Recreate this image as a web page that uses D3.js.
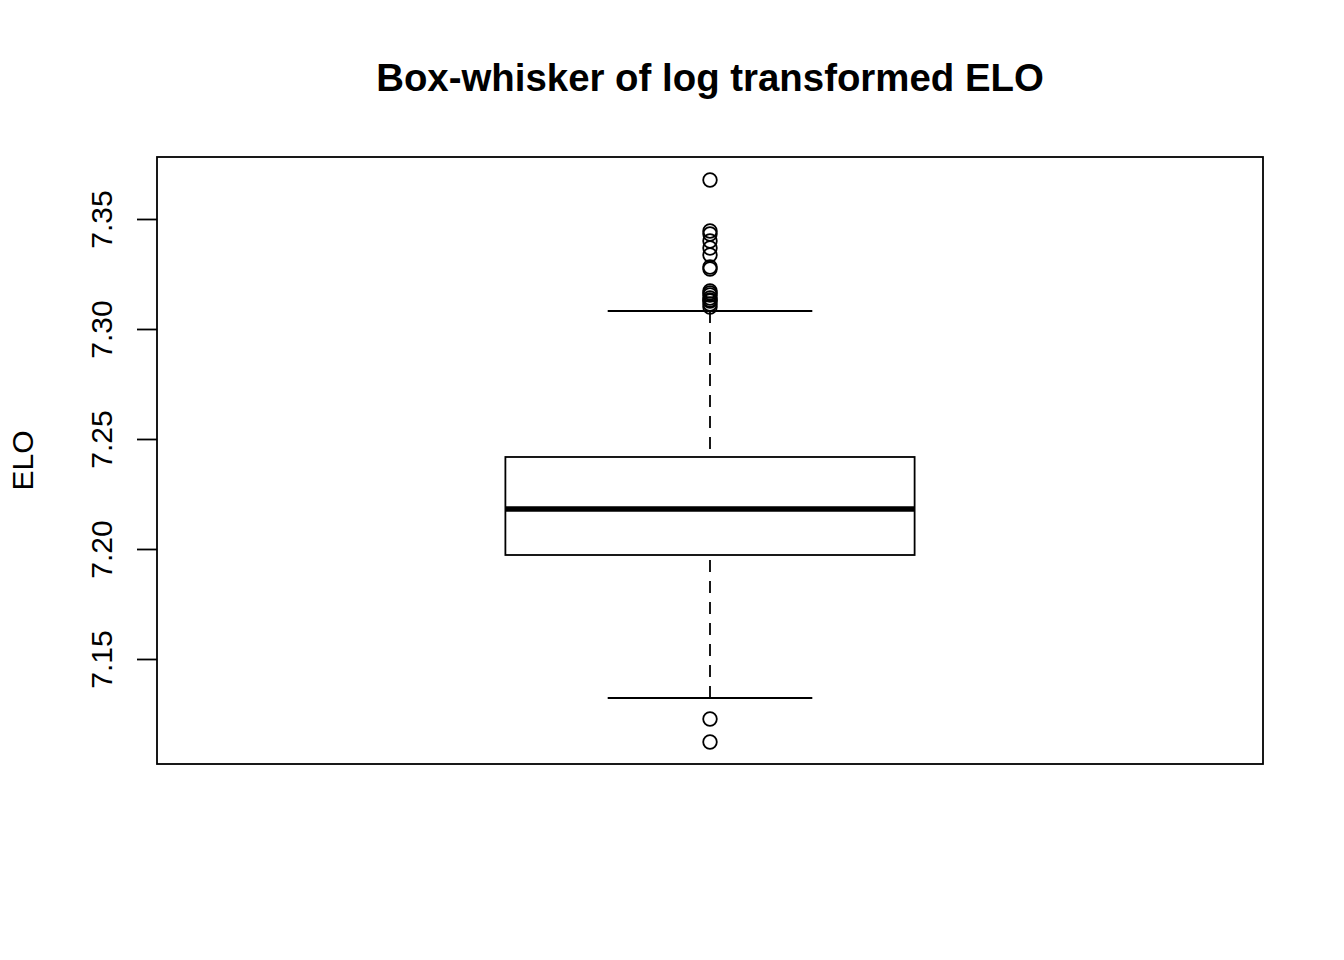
<!DOCTYPE html>
<html><head><meta charset="utf-8">
<script src="https://cdn.jsdelivr.net/npm/d3@7"></script>
<style>body{margin:0;background:#fff}svg{display:block}text{font-family:"Liberation Sans",Arial,sans-serif}</style>
</head><body>
<script>
const title = "Box-whisker of log transformed ELO";
const yLabel = "ELO";
const yTicks = [7.15, 7.20, 7.25, 7.30, 7.35];
const yDomain = [7.10227, 7.37818];
// five-number summary
const stats = {lowerWhisker: 7.13227, q1: 7.19727, median: 7.21818, q3: 7.24182, upperWhisker: 7.30818};
const outliers = [7.36773, 7.34455, 7.34318, 7.34, 7.33682, 7.33364, 7.32818, 7.32727, 7.31727, 7.31636, 7.31545, 7.31409, 7.31318, 7.31273, 7.31136, 7.31, 7.12273, 7.11227];

const W = 1344, H = 960;
const plot = {left: 157, right: 1263, top: 157, bottom: 764};
const svg = d3.select("body").append("svg").attr("width", W).attr("height", H);

const y = d3.scaleLinear().domain(yDomain).range([plot.bottom, plot.top]);
const x = d3.scaleLinear().domain([0.5, 1.5]).range([plot.left, plot.right]);
const cx = x(1);
const boxHalf = x(1.185) - x(1);
const capHalf = boxHalf / 2;

svg.append("text").attr("x", cx).attr("y", 91).attr("text-anchor", "middle")
  .attr("font-size", 38.4).attr("font-weight", "bold").attr("fill", "#000").text(title);

svg.append("rect").attr("x", plot.left).attr("y", plot.top)
  .attr("width", plot.right - plot.left).attr("height", plot.bottom - plot.top)
  .attr("fill", "none").attr("stroke", "#000").attr("stroke-width", 1.8);

const axis = d3.axisLeft(y).tickValues(yTicks).tickFormat(d3.format(".2f")).tickSize(20).tickSizeOuter(0);
const ag = svg.append("g").attr("transform", `translate(${plot.left},0)`).call(axis);
ag.select(".domain").remove();
ag.selectAll("line").attr("stroke", "#000").attr("stroke-width", 1.8);
// tick labels: rotated, baseline at absolute x = 112
ag.selectAll(".tick text")
  .attr("font-size", 30).attr("fill", "#000").attr("font-family", "Liberation Sans, Arial, sans-serif")
  .attr("x", null).attr("y", null).attr("dy", null)
  .attr("text-anchor", "middle")
  .attr("transform", `translate(${112 - plot.left},0) rotate(-90)`);

svg.append("text").attr("transform", `translate(33,${(plot.top + plot.bottom) / 2}) rotate(-90)`)
  .attr("text-anchor", "middle").attr("font-size", 30).attr("fill", "#000").text(yLabel);

const g = svg.append("g");
// whiskers (dashed), drawn from whisker end toward the box
g.append("line").attr("x1", cx).attr("x2", cx).attr("y1", y(stats.upperWhisker)).attr("y2", y(stats.q3))
  .attr("stroke", "#000").attr("stroke-width", 1.8).attr("stroke-dasharray", "12,9");
g.append("line").attr("x1", cx).attr("x2", cx).attr("y1", y(stats.lowerWhisker)).attr("y2", y(stats.q1))
  .attr("stroke", "#000").attr("stroke-width", 1.8).attr("stroke-dasharray", "12,9");
// caps
[stats.upperWhisker, stats.lowerWhisker].forEach(v => {
  g.append("line").attr("x1", cx - capHalf).attr("x2", cx + capHalf).attr("y1", y(v)).attr("y2", y(v))
    .attr("stroke", "#000").attr("stroke-width", 1.8);
});
// box
g.append("rect").attr("x", cx - boxHalf).attr("y", y(stats.q3)).attr("width", 2 * boxHalf)
  .attr("height", y(stats.q1) - y(stats.q3)).attr("fill", "#fff").attr("stroke", "#000").attr("stroke-width", 1.8);
g.append("line").attr("x1", cx - boxHalf).attr("x2", cx + boxHalf).attr("y1", y(stats.median)).attr("y2", y(stats.median))
  .attr("stroke", "#000").attr("stroke-width", 5.5);
// outliers
g.selectAll("circle").data(outliers).join("circle")
  .attr("cx", cx).attr("cy", d => y(d)).attr("r", 6.8)
  .attr("fill", "none").attr("stroke", "#000").attr("stroke-width", 1.8);
</script>
</body></html>
